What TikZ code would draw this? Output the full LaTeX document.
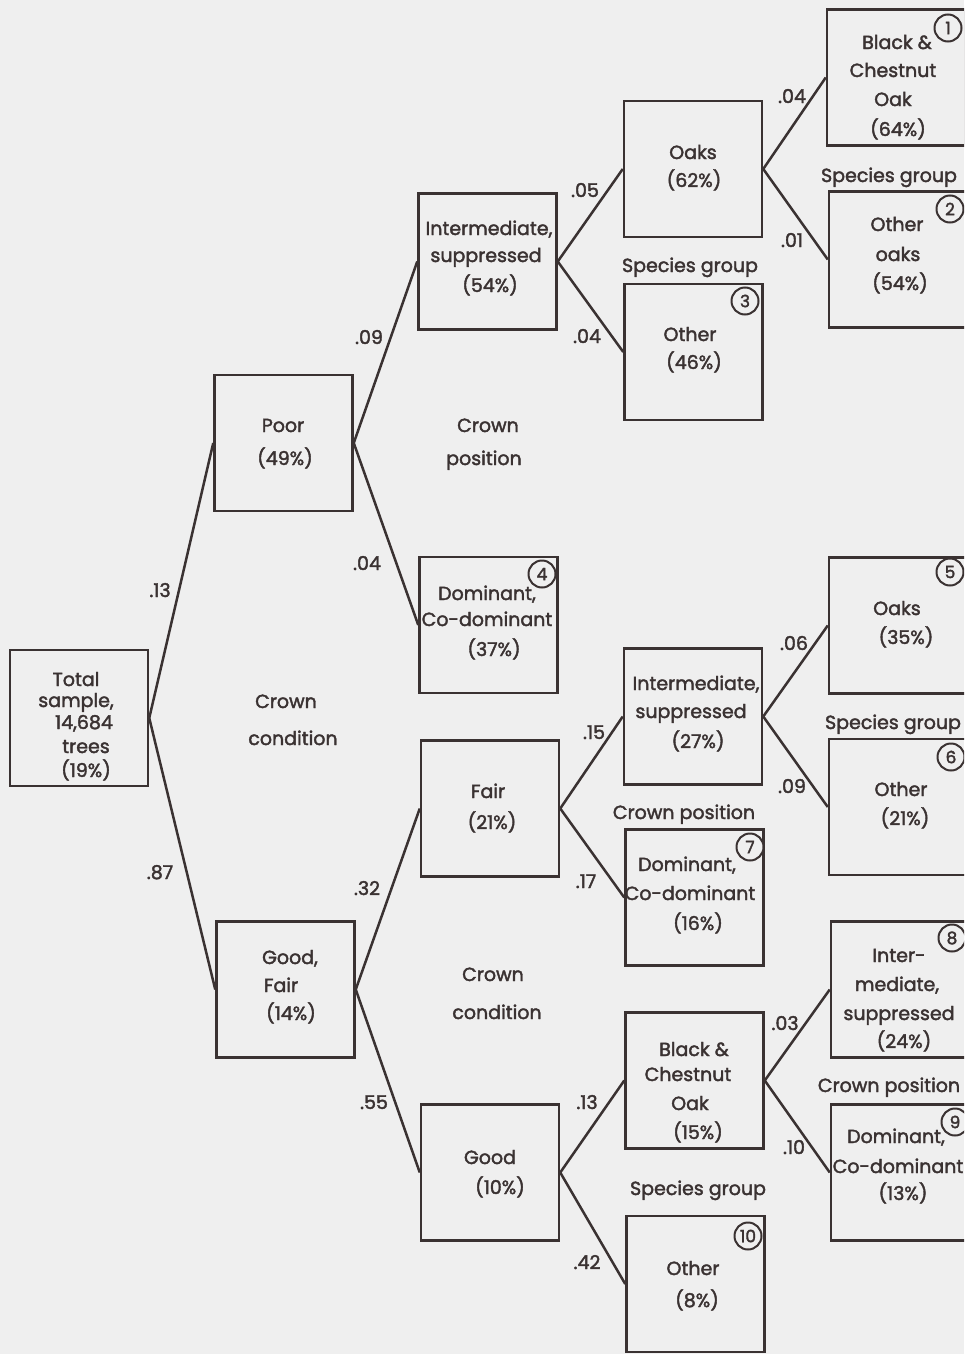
\documentclass[tikz,border=0pt]{standalone}
\usepackage{fontspec}
\setmainfont{Poppins}[AutoFakeBold=2]
\definecolor{ink}{HTML}{3A3232}
\definecolor{paper}{HTML}{EFEFEF}
\begin{document}
\begin{tikzpicture}[x=1pt,y=-1pt,
  box/.style={draw=ink,line width=2.5pt,minimum width=138pt,minimum height=136pt,inner sep=0pt},
  txt/.style={text=ink,font=\fontsize{19}{22}\selectfont\bfseries,inner sep=0pt,anchor=base},
  prob/.style={text=ink,font=\fontsize{19}{22}\selectfont\bfseries,inner sep=0pt,anchor=base},
  sect/.style={text=ink,font=\fontsize{19}{22}\selectfont\bfseries,inner sep=0pt,anchor=base},
  num/.style={circle,draw=ink,line width=2pt,fill=paper,minimum size=27pt,inner sep=0pt,text=ink,font=\fontsize{17}{19}\selectfont\bfseries},
  conn/.style={draw=ink,line width=2.5pt}]
\fill[paper] (0,0) rectangle (964,1354);
\useasboundingbox (0,0) rectangle (964,1354);
\begin{scope}
\clip (0,0) rectangle (964,1354);
% boxes
\node[box] (tot) at (79,718) {};
\node[box] (poor) at (283.5,443) {};
\node[box] (gf) at (285.5,989.5) {};
\node[box] (is54) at (487.5,261.5) {};
\node[box] (dom4) at (488.5,625) {};
\node[box] (fair) at (490,808.5) {};
\node[box] (good) at (490,1172.5) {};
\node[box] (oaks62) at (693,169) {};
\node[box] (oth46) at (693.5,352) {};
\node[box] (is27) at (693,716.5) {};
\node[box] (dom7) at (694.5,897.5) {};
\node[box] (bc15) at (694.5,1080.5) {};
\node[box] (oth8) at (695.5,1284) {};
\node[box] (bc64) at (896,77.5) {};
\node[box] (ooaks) at (898,259.5) {};
\node[box] (oaks35) at (898,625.5) {};
\node[box] (oth21) at (898,807) {};
\node[box] (im8) at (900,989.5) {};
\node[box] (dom9) at (900,1172.5) {};
% connectors
\draw[conn] (tot.east) -- (poor.west);
\draw[conn] (tot.east) -- (gf.west);
\draw[conn] (poor.east) -- (is54.west);
\draw[conn] (poor.east) -- (dom4.west);
\draw[conn] (gf.east) -- (fair.west);
\draw[conn] (gf.east) -- (good.west);
\draw[conn] (is54.east) -- (oaks62.west);
\draw[conn] (is54.east) -- (oth46.west);
\draw[conn] (oaks62.east) -- (bc64.west);
\draw[conn] (oaks62.east) -- (ooaks.west);
\draw[conn] (fair.east) -- (is27.west);
\draw[conn] (fair.east) -- (dom7.west);
\draw[conn] (is27.east) -- (oaks35.west);
\draw[conn] (is27.east) -- (oth21.west);
\draw[conn] (good.east) -- (bc15.west);
\draw[conn] (good.east) -- (oth8.west);
\draw[conn] (bc15.east) -- (im8.west);
\draw[conn] (bc15.east) -- (dom9.west);
% box texts
\node[txt] (t1) at (76,686) {Total};
\node[txt] (t2) at (76,707) {sample,};
\node[txt] (t3) at (84,729) {14,684};
\node[txt] (t4) at (86,753) {trees};
\node[txt] (t5) at (86,777) {(19\%)};
\node[txt] (p1) at (283,432) {Poor};
\node[txt] (p2) at (285,465) {(49\%)};
\node[txt] (g1) at (290,964) {Good,};
\node[txt] (g2) at (281,992) {Fair};
\node[txt] (g3) at (291,1020) {(14\%)};
\node[txt] (a1) at (489,235) {Intermediate,};
\node[txt] (a2) at (486,262) {suppressed};
\node[txt] (a3) at (490,292) {(54\%)};
\node[txt] (b1) at (487,600) {Dominant,};
\node[txt] (b2) at (487,626) {Co-dominant};
\node[txt] (b3) at (494,656) {(37\%)};
\node[txt] (c1) at (488,798) {Fair};
\node[txt] (c2) at (492,829) {(21\%)};
\node[txt] (d1) at (490,1164) {Good};
\node[txt] (d2) at (500,1194) {(10\%)};
\node[txt] (e1) at (693,159) {Oaks};
\node[txt] (e2) at (694,187) {(62\%)};
\node[txt] (f1) at (690,341) {Other};
\node[txt] (f2) at (694,369) {(46\%)};
\node[txt] (h1) at (696,690) {Intermediate,};
\node[txt] (h2) at (691,718) {suppressed};
\node[txt] (h3) at (698,748) {(27\%)};
\node[txt] (i1) at (687,871) {Dominant,};
\node[txt] (i2) at (690,900) {Co-dominant};
\node[txt] (i3) at (698,930) {(16\%)};
\node[txt] (j1) at (694,1056) {Black \&};
\node[txt] (j2) at (688,1081) {Chestnut};
\node[txt] (j3) at (690,1110) {Oak};
\node[txt] (j4) at (698,1139) {(15\%)};
\node[txt] (k1) at (693,1275) {Other};
\node[txt] (k2) at (697,1307) {(8\%)};
\node[txt] (l1) at (897,49) {Black \&};
\node[txt] (l2) at (893,77) {Chestnut};
\node[txt] (l3) at (893,106) {Oak};
\node[txt] (l4) at (898,136) {(64\%)};
\node[txt] (m1) at (897,231) {Other};
\node[txt] (m2) at (898,261) {oaks};
\node[txt] (m3) at (900,290) {(54\%)};
\node[txt] (n1) at (897,615) {Oaks};
\node[txt] (n2) at (906,644) {(35\%)};
\node[txt] (o1) at (901,796) {Other};
\node[txt] (o2) at (905,825) {(21\%)};
\node[txt] (q1) at (899,962) {Inter-};
\node[txt] (q2) at (897,991) {mediate,};
\node[txt] (q3) at (899,1020) {suppressed};
\node[txt] (q4) at (904,1048) {(24\%)};
\node[txt] (r1) at (896,1143) {Dominant,};
\node[txt] (r2) at (898,1173) {Co-dominant};
\node[txt] (r3) at (903,1200) {(13\%)};
% probabilities
\node[prob] (v1) at (160,597) {.13};
\node[prob] (v2) at (160,879) {.87};
\node[prob] (v3) at (369,344) {.09};
\node[prob] (v4) at (367,570) {.04};
\node[prob] (v5) at (367,895) {.32};
\node[prob] (v6) at (374,1109) {.55};
\node[prob] (v7) at (585,197) {.05};
\node[prob] (v8) at (587,343) {.04};
\node[prob] (v9) at (594,739) {.15};
\node[prob] (v10) at (586,888) {.17};
\node[prob] (v11) at (587,1109) {.13};
\node[prob] (v12) at (587,1269) {.42};
\node[prob] (v13) at (792,103) {.04};
\node[prob] (v14) at (792,247) {.01};
\node[prob] (v15) at (794,650) {.06};
\node[prob] (v16) at (792,793) {.09};
\node[prob] (v17) at (785,1030) {.03};
\node[prob] (v18) at (794,1154) {.10};
% section labels
\node[sect] (s1) at (286,708) {Crown};
\node[sect] (s2) at (293,745) {condition};
\node[sect] (s3) at (488,432) {Crown};
\node[sect] (s4) at (484,465) {position};
\node[sect] (s5) at (493,981) {Crown};
\node[sect] (s6) at (497,1019) {condition};
\node[sect] (s7) at (690,272) {Species group};
\node[sect] (s8) at (889,182) {Species group};
\node[sect] (s9) at (893,729) {Species group};
\node[sect] (s10) at (684,819) {Crown position};
\node[sect] (s11) at (889,1092) {Crown position};
\node[sect] (s12) at (698,1195) {Species group};
% circled numbers
\node[num] (c1n) at (948,28) {1};
\node[num] (c2n) at (950,209) {2};
\node[num] (c3n) at (745,301) {3};
\node[num] (c4n) at (542,574) {4};
\node[num] (c5n) at (950,572) {5};
\node[num] (c6n) at (951,757) {6};
\node[num] (c7n) at (750,847) {7};
\node[num] (c8n) at (952,938) {8};
\node[num] (c9n) at (955,1122) {9};
\node[num] (c10n) at (748,1236) {10};
\end{scope}
\end{tikzpicture}
\end{document}
